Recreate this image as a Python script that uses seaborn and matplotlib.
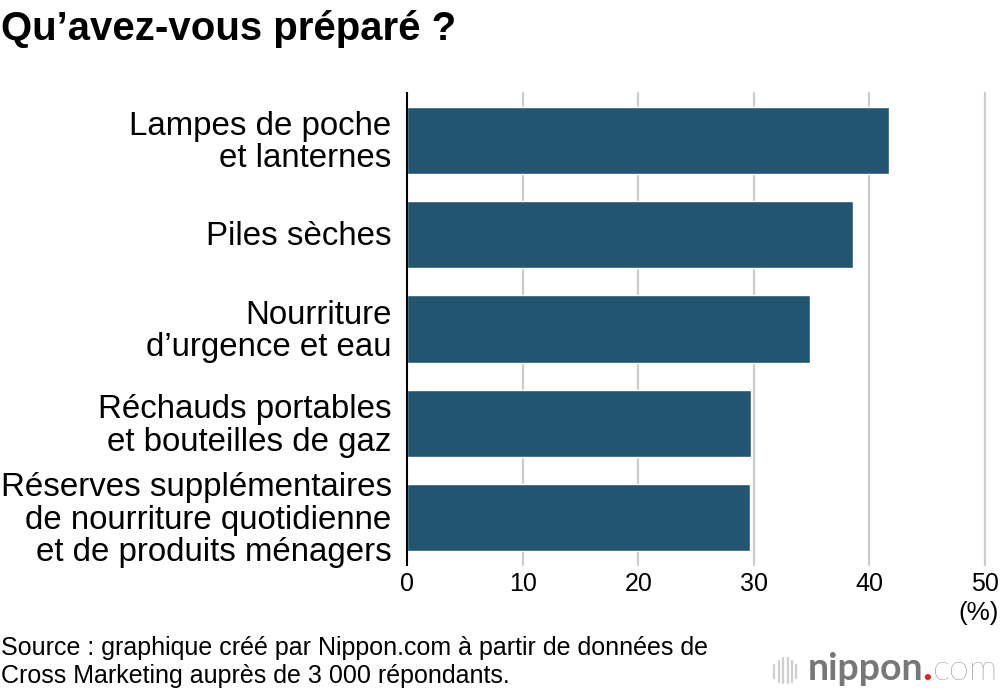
# -*- coding: utf-8 -*-
import pandas as pd
import matplotlib
matplotlib.use("Agg")
import matplotlib.pyplot as plt
from matplotlib.lines import Line2D
from matplotlib.transforms import ScaledTranslation
import seaborn as sns

sns.set_style("white")
plt.rcParams['font.family'] = ['Liberation Sans', 'DejaVu Sans']

categories = ["Lampes de poche\net lanternes",
              "Piles sèches",
              "Nourriture\nd’urgence et eau",
              "Réchauds portables\net bouteilles de gaz",
              "Réserves supplémentaires\nde nourriture quotidienne\net de produits ménagers"]
values = [41.7, 38.6, 34.9, 29.8, 29.7]
x_ticks = [0, 10, 20, 30, 40, 50]

W, H = 1000, 692
df = pd.DataFrame({"cat": categories, "val": values})

fig = plt.figure(figsize=(W / 100, H / 100), dpi=100)
ax = fig.add_axes([407 / W, 1 - 565 / H, (985 - 407) / W, (565 - 93) / H])

sns.barplot(data=df, y="cat", x="val", color="#235571", saturation=1, width=0.71, ax=ax, zorder=3)

ax.set_xlim(0, 50)
ax.set_ylim(4.5, -0.5)
ax.set_xlabel("")
ax.set_ylabel("")
ax.set_xticks(x_ticks)
ax.grid(False)
for x in x_ticks[1:]:
    ax.axvline(x, color="#cccccc", lw=1.6, zorder=1, clip_on=False)
for s in ["top", "right", "bottom"]:
    ax.spines[s].set_visible(False)
ax.spines["left"].set_color("black")
ax.spines["left"].set_linewidth(1.5)
ax.spines["left"].set_zorder(5)
ax.tick_params(axis="x", length=0, pad=5, labelsize=18, labelcolor="black")
ax.tick_params(axis="y", length=0, pad=11, labelsize=23.75, labelcolor="black")
# labels sit a little higher than the bar centres
shift_up = ScaledTranslation(0, 2 / 100, fig.dpi_scale_trans)
for lab in ax.get_yticklabels():
    lab.set_linespacing(1.07)
    lab.set_multialignment("right")
    lab.set_transform(lab.get_transform() + shift_up)

def fx(px):
    return px / W

def fy(px):
    return 1 - px / H

fig.text(fx(1), fy(29), "Qu’avez-vous préparé ?", fontsize=28.9, fontweight="bold",
         va="center", ha="left", color="black")
fig.text(fx(999), fy(613), "(%)", fontsize=18.8, va="center", ha="right", color="black")
fig.text(fx(1), fy(662), "Source : graphique créé par Nippon.com à partir de données de\nCross Marketing auprès de 3 000 répondants.",
         fontsize=18, va="center", ha="left", color="black", linespacing=1.24)

# logo
for px, top, bot in [(774, 665, 678), (779, 661, 682), (783, 658, 683),
                     (788, 658, 683), (792, 661, 682), (796, 665, 678)]:
    fig.add_artist(Line2D([fx(px), fx(px)], [fy(top), fy(bot)], color="#cfcfcf", lw=1.6))
fig.text(fx(808), fy(680), "nippon", family="Lato", fontsize=27, fontweight="bold",
         color="#777777", va="baseline", ha="left")
fig.text(fx(922), fy(680), ".", family="Lato", fontsize=30, fontweight="bold",
         color="#f01c24", va="baseline", ha="left")
fig.text(fx(933), fy(680), "com", family="Lato", fontsize=26, fontweight="light",
         color="#666666", va="baseline", ha="left")

fig.savefig("out.png", dpi=100, facecolor="white")
